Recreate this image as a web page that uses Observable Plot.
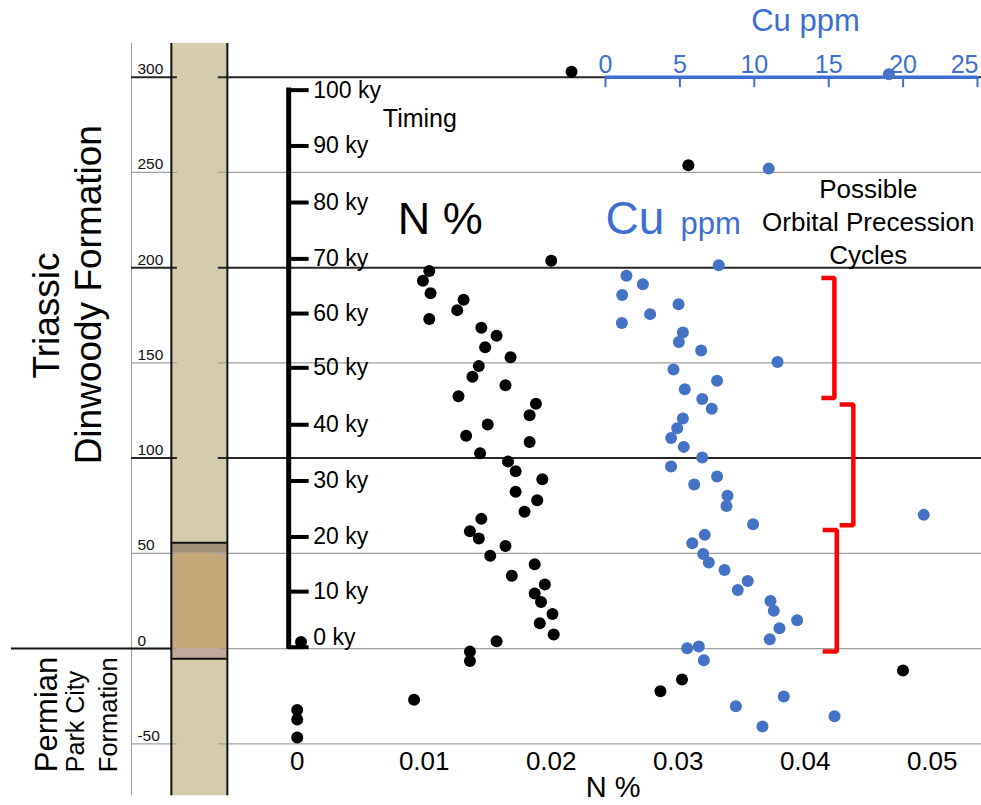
<!DOCTYPE html>
<html><head><meta charset="utf-8">
<script src="https://cdn.jsdelivr.net/npm/d3@7"></script>
<script src="https://cdn.jsdelivr.net/npm/@observablehq/plot@0.6"></script>
<style>
html,body{margin:0;padding:0;background:#fff;}
#chart{position:relative;width:981px;height:805px;overflow:hidden;}
#chart svg{position:absolute;left:0;top:0;}
</style></head><body><div id="chart"></div>
<script>
// ---------------- DATA ----------------
// N % samples: stratigraphic height (m) and N %
const nDepth = [302.8,253.8,203.6,198.3,193.1,186.6,183.1,177.7,173.1,168.5,164.2,158.2,153.0,148.3,142.7,138.3,132.5,128.6,122.5,117.6,111.8,108.4,102.6,98.2,93.1,88.9,82.3,77.9,71.9,68.1,61.6,57.8,53.9,48.7,44.3,38.2,33.6,28.9,24.4,18.2,13.3,7.4,3.9,3.4,-1.6,-6.5,-11.5,-16.3,-22.4,-26.9,-32.2,-37.3,-46.7];
const nPct   = [0.0216,0.0308,0.0200,0.0104,0.0099,0.0105,0.0131,0.0126,0.0104,0.0145,0.0157,0.0148,0.0168,0.0143,0.0138,0.0164,0.0127,0.0188,0.0183,0.0150,0.0133,0.0183,0.0144,0.0166,0.0172,0.0193,0.0172,0.0189,0.0179,0.0145,0.0136,0.0143,0.0164,0.0152,0.0187,0.0169,0.0195,0.0187,0.0192,0.0201,0.0191,0.0202,0.0157,0.0003,0.0136,0.0136,0.0477,0.0303,0.0286,0.0092,0.0000,0.0000,0.0000];
// Cu ppm samples
const cuDepth = [301.6,252.0,201.3,195.7,191.3,185.7,180.8,175.6,171.0,165.9,161.0,156.5,150.5,146.5,140.6,136.2,131.0,125.9,120.8,115.7,110.5,105.9,100.3,95.6,90.3,86.1,80.3,74.9,70.2,65.3,59.7,55.3,49.7,45.2,41.2,35.5,30.8,25.0,19.8,14.9,10.7,4.9,0.2,1.1,-6.1,-25.2,-30.3,-35.5,-40.9];
const cuPpm   = [19.04,10.97,7.61,1.41,2.51,1.12,4.91,3.00,1.10,5.20,4.93,6.43,11.56,4.57,7.50,5.33,6.50,7.14,5.20,4.82,4.41,5.26,6.50,4.41,7.50,5.96,8.20,8.13,21.39,9.92,6.67,5.83,6.57,6.94,8.00,9.56,8.89,11.09,11.31,12.88,11.69,11.04,5.49,6.27,6.61,11.98,8.76,15.39,10.55];
// axes / ticks
const depthTicks = [-50,0,50,100,150,200,250,300];
const majorDepths = [100,200,300];
const nTicks = [0,0.01,0.02,0.03,0.04,0.05];
const nTickLabels = ["0","0.01","0.02","0.03","0.04","0.05"];
const cuTicks = [0,5,10,15,20,25];
// timing scale: ky and the stratigraphic height of each tick
const timingKy = [0,10,20,30,40,50,60,70,80,90,100];
const timingDepth = [0.7,29.9,58.6,88.0,117.5,147.4,175.9,204.6,234.2,263.9,293.2];
// possible orbital precession cycles (height ranges)
const cycleTop = [194.6,128.1,62.2];
const cycleBottom = [131.5,64.8,-1.5];
// lithologic column
const layerNames = ["Dinwoody","marker bed","basal Dinwoody","boundary bed","Park City"];
const layerTop = [317.7,55.5,50,0,-5.4];
const layerBottom = [55.5,50,0,-5.4,-77.3];

// ---------------- STYLE / LAYOUT ----------------
const W = 981, H = 805;
const font = "'Liberation Sans', Arial, Helvetica, sans-serif";
const blue = "#4472c4", blueText = "#3d6fd2", red = "#ff0000";
const layerFill = {"Dinwoody":"#d5ccab","marker bed":"#a39079","basal Dinwoody":"#c5a87a","boundary bed":"#c2a89b","Park City":"#d5ccab"};
const yScale = {domain:[-50,300], range:[743.3,76.7]};
// horizontal placements in N% units (scale extrapolates outside domain)
const L = {
  ref:-0.01305, gridL1:-0.01305, gridL2:-0.00943, gridR1:-0.00621, gridR2:0.0540,
  colL:-0.00991, colR:-0.0055, boundaryL:-0.0225,
  timeX:-0.00067, timeTick:0.00094, timeLabel:0.00126, depthLabel:-0.01258
};
const bracketTipX = [0.04127,0.04271,0.04138];
const bracketSpineX = [0.04230,0.04379,0.04249];

const nData = nDepth.map((d,i)=>({depth:d, n:nPct[i]}));
const cuData = cuDepth.map((d,i)=>({depth:d, cu:cuPpm[i]}));
const layers = layerNames.map((name,i)=>({name, top:layerTop[i], bottom:layerBottom[i]}));
const bracketPts = cycleTop.flatMap((t,i)=>[
  {k:i,x:bracketTipX[i],y:t},{k:i,x:bracketSpineX[i],y:t},
  {k:i,x:bracketSpineX[i],y:cycleBottom[i]},{k:i,x:bracketTipX[i],y:cycleBottom[i]}]);

const base = {width:W, height:H, margin:0, style:{fontFamily:font, background:"transparent", overflow:"visible"}};

const main = Plot.plot({
  ...base,
  x:{domain:[0,0.05], range:[296.7,931.7], axis:null},
  y:{...yScale, axis:null},
  color:{type:"identity"},
  marks:[
    Plot.ruleX([L.ref], {y1:-77.3, y2:317.7, stroke:"#9a9a9a", strokeWidth:1}),
    Plot.rect(layers, {x1:L.colL, x2:L.colR, y1:"bottom", y2:"top", fill:d=>layerFill[d.name]}),
    Plot.ruleY(depthTicks.filter(d=>!majorDepths.includes(d)), {x1:L.gridL1, x2:L.gridL2, stroke:"#a0a0a0", strokeWidth:1.2}),
    Plot.ruleY(depthTicks.filter(d=>!majorDepths.includes(d)), {x1:L.gridR1, x2:L.gridR2, stroke:"#a0a0a0", strokeWidth:1.2}),
    Plot.ruleY(majorDepths, {x1:L.gridL1, x2:L.gridL2, stroke:"#262626", strokeWidth:2}),
    Plot.ruleY(majorDepths, {x1:L.gridR1, x2:L.gridR2, stroke:"#262626", strokeWidth:2}),
    Plot.ruleX([L.colL, L.colR], {y1:-77.3, y2:317.7, stroke:"#111", strokeWidth:2}),
    Plot.ruleY([layerTop[1], layerBottom[3]], {x1:L.colL, x2:L.colR, stroke:"#111", strokeWidth:2}),
    Plot.ruleY([0], {x1:L.boundaryL, x2:L.colL, stroke:"#111", strokeWidth:2}),
    Plot.text(depthTicks, {x:L.depthLabel, y:d=>d, text:d=>String(d), textAnchor:"start", lineAnchor:"bottom", dy:-3, fontSize:15.5, fill:"#111"}),
    // timing axis
    Plot.ruleX([L.timeX], {y1:-0.3, y2:294.3, stroke:"#000", strokeWidth:5}),
    Plot.ruleY(timingDepth, {x1:L.timeX, x2:L.timeTick, stroke:"#000", strokeWidth:4}),
    Plot.text(timingKy, {x:L.timeLabel, y:(d,i)=>timingDepth[i] + (d===0 ? 5.3 : 0), text:d=>`${d} ky`, textAnchor:"start", lineAnchor:"middle", fontSize:23, fill:"#000"}),
    Plot.text(["Timing"], {x:0.00674, y:273.7, text:d=>d, textAnchor:"start", lineAnchor:"bottom", fontSize:25, fill:"#000"}),
    Plot.text(["N %"], {x:0.00792, y:217.8, text:d=>d, textAnchor:"start", lineAnchor:"bottom", fontSize:45, fill:"#000"}),
    // brackets
    Plot.line(bracketPts, {x:"x", y:"y", z:"k", stroke:red, strokeWidth:4.5, strokeLinejoin:"miter", strokeLinecap:"butt"}),
    Plot.text(["Possible\nOrbital Precession\nCycles"], {x:0.04497, y:202.0, text:d=>d, textAnchor:"middle", lineAnchor:"bottom", lineHeight:1.27, fontSize:26, fill:"#000"}),
    // N % data
    Plot.dot(nData, {x:"n", y:"depth", r:6, fill:"#000", stroke:null}),
    // bottom axis labels
    Plot.text(nTicks, {x:d=>d, y:-64.0, text:(d,i)=>nTickLabels[i], textAnchor:"middle", lineAnchor:"bottom", fontSize:26, fill:"#000"}),
    Plot.text(["N %"], {x:0.02272, y:-78.0, text:d=>d, textAnchor:"start", lineAnchor:"bottom", fontSize:29, fill:"#000"}),
    // formation labels
    Plot.text(["Triassic"], {x:-0.01965, y:174.9, text:d=>d, rotate:-90, textAnchor:"middle", lineAnchor:"middle", fontSize:37, fill:"#000"}),
    Plot.text(["Dinwoody Formation"], {x:-0.01639, y:185.8, text:d=>d, rotate:-90, textAnchor:"middle", lineAnchor:"middle", fontSize:37, fill:"#000"}),
    Plot.text(["Permian"], {x:-0.01973, y:-64.9, text:d=>d, rotate:-90, textAnchor:"start", lineAnchor:"middle", fontSize:31, fill:"#000"}),
    Plot.text(["Park City"], {x:-0.01741, y:-64.9, text:d=>d, rotate:-90, textAnchor:"start", lineAnchor:"middle", fontSize:25, fill:"#000"}),
    Plot.text(["Formation"], {x:-0.01486, y:-64.9, text:d=>d, rotate:-90, textAnchor:"start", lineAnchor:"middle", fontSize:25.5, fill:"#000"})
  ]
});

const cu = Plot.plot({
  ...base,
  x:{domain:[0,25], range:[605,977], axis:null},
  y:{...yScale, axis:null},
  marks:[
    Plot.ruleY([300], {x1:0, x2:25, stroke:blueText, strokeWidth:3.5}),
    Plot.ruleX(cuTicks, {y1:300, y2:294.5, stroke:blueText, strokeWidth:2}),
    Plot.dot(cuData, {x:"cu", y:"depth", r:6, fill:blue, stroke:null}),
    Plot.text(cuTicks.filter(d=>d<25), {x:d=>d, y:302.1, text:d=>String(d), textAnchor:"middle", lineAnchor:"bottom", fontSize:25, fill:blueText}),
    Plot.text(cuTicks.filter(d=>d===25), {x:d=>d, y:302.1, text:d=>String(d), textAnchor:"end", lineAnchor:"bottom", dx:1, fontSize:25, fill:blueText}),
    Plot.text(["Cu ppm"], {x:13.44, y:324.5, text:d=>d, textAnchor:"middle", lineAnchor:"bottom", fontSize:31, fill:blueText}),
    Plot.text(["Cu"], {x:0, y:217.8, text:d=>d, textAnchor:"start", lineAnchor:"bottom", fontSize:46, fill:blueText}),
    Plot.text(["ppm"], {x:5.04, y:217.8, text:d=>d, textAnchor:"start", lineAnchor:"bottom", fontSize:31, fill:blueText})
  ]
});

const el = document.getElementById("chart");
el.appendChild(main);
el.appendChild(cu);
</script></body></html>
